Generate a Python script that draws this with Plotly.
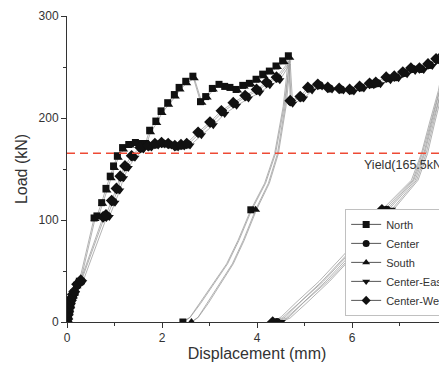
import plotly.graph_objects as go

SERIES_NAMES = ["North", "Center", "South", "Center-East", "Center-West"]
YIELD_LOAD = 165.5
X_TICKS = [0, 2, 4, 6, 8]
Y_TICKS = [0, 100, 200, 300]

# ---------------- North (square) ----------------
north_load_x = [0.00, 0.01, 0.02, 0.03, 0.04, 0.06, 0.08, 0.10, 0.12, 0.15, 0.20, 0.26, 0.57, 0.63, 0.73, 0.82, 0.91, 0.98, 1.06, 1.17, 1.30, 1.44, 1.55, 1.65, 1.74, 1.87, 1.98, 2.12, 2.26, 2.36, 2.50, 2.65, 2.81, 2.92, 3.06, 3.20, 3.32, 3.43, 3.56, 3.70, 3.84, 3.98, 4.12, 4.26, 4.40, 4.54, 4.66]
north_load_y = [0, 3, 7, 11, 14, 18, 21, 24, 26, 29, 36, 40, 102, 104, 117, 131, 143, 153, 163, 171, 174, 176, 175, 175, 188, 197, 207, 215, 223, 230, 236, 241, 216, 221, 229, 233, 231, 230, 228, 232, 234, 238, 243, 246, 251, 256, 261]
north_cycle_x = [4.62, 4.55, 4.37, 4.16, 3.87, 3.60, 3.36, 3.07, 2.79, 2.58, 2.44, 2.60, 2.81, 3.09, 3.38, 3.62, 3.89, 4.18, 4.39, 4.57, 4.64, 4.69]
north_cycle_y = [240, 211, 165, 136, 110, 80, 57, 37, 18, 4, 0, 5, 18, 37, 57, 80, 110, 136, 165, 211, 240, 258]
north_cycle_marks = [4, 10]

# ---------------- South (triangle up) ----------------
south_load_x = [0.00, 0.01, 0.02, 0.04, 0.05, 0.07, 0.09, 0.11, 0.13, 0.16, 0.21, 0.28, 0.59, 0.66, 0.75, 0.84, 0.93, 1.00, 1.08, 1.19, 1.33, 1.46, 1.58, 1.67, 1.76, 1.89, 2.00, 2.14, 2.28, 2.38, 2.52, 2.68, 2.84, 2.95, 3.08, 3.22, 3.35, 3.46, 3.59, 3.73, 3.87, 4.01, 4.15, 4.29, 4.43, 4.57, 4.69]
south_load_y = [0, 2, 6, 10, 13, 17, 20, 23, 25, 28, 35, 39, 101, 103, 116, 129, 141, 151, 161, 169, 173, 175, 174, 174, 186, 195, 205, 213, 221, 228, 234, 239, 215, 220, 228, 232, 230, 229, 227, 231, 233, 237, 241, 245, 250, 255, 259]
south_cycle_x = [4.65, 4.59, 4.43, 4.24, 3.97, 3.71, 3.48, 3.21, 2.95, 2.75, 2.62, 2.77, 2.97, 3.23, 3.50, 3.73, 3.99, 4.26, 4.45, 4.61, 4.67, 4.71]
south_cycle_y = [240, 211, 165, 136, 110, 80, 57, 37, 18, 4, 0, 5, 18, 37, 57, 80, 110, 136, 165, 211, 240, 257]
south_cycle_marks = [4, 10]

# ---------------- Center (circle) ----------------
center_load_x = [0.00, 0.01, 0.02, 0.04, 0.05, 0.07, 0.09, 0.11, 0.13, 0.16, 0.22, 0.30, 0.79, 0.85, 0.97, 1.07, 1.15, 1.25, 1.39, 1.57, 1.74, 1.88, 2.02, 2.16, 2.30, 2.43, 2.55, 2.79, 3.04, 3.28, 3.53, 3.78, 4.02, 4.23, 4.44]
center_load_y = [0, 3, 6, 10, 13, 17, 20, 23, 26, 29, 36, 40, 103, 104, 118, 130, 142, 152, 162, 170, 172, 174, 175, 174, 172, 173, 174, 185, 195, 206, 214, 221, 227, 234, 239]
center_peak_x = [4.62, 4.68]
center_peak_y = [250, 255]
center_tail_x = [4.72, 4.94, 5.11, 5.32, 5.53, 5.77, 5.99, 6.20, 6.41, 6.54, 6.76, 6.93, 7.11, 7.28, 7.46, 7.64, 7.81, 7.95]
center_tail_y = [216, 220, 229, 232, 229, 228, 227, 230, 233, 234, 239, 240, 244, 248, 248, 252, 257, 261]
center_cycle_x = [7.90, 7.85, 7.67, 7.51, 7.30, 6.73, 6.37, 6.09, 5.92, 5.40, 4.90, 4.60, 4.42, 4.62, 4.95, 5.45, 5.97, 6.13, 6.41, 6.77, 7.33, 7.53, 7.69, 7.88, 7.97, 8.03]
center_cycle_y = [240, 227, 195, 165, 139, 110, 93, 74, 66, 40, 19, 5, 0, 4, 18, 40, 66, 74, 93, 110, 139, 165, 195, 227, 250, 263]
center_cycle_marks = [5, 12]

# ---------------- Center-East (triangle down) ----------------
ce_load_x = [0.00, 0.01, 0.03, 0.04, 0.06, 0.08, 0.10, 0.12, 0.14, 0.18, 0.24, 0.33, 0.83, 0.89, 1.01, 1.11, 1.19, 1.29, 1.43, 1.61, 1.78, 1.92, 2.06, 2.20, 2.34, 2.47, 2.59, 2.83, 3.08, 3.32, 3.57, 3.82, 4.06, 4.27, 4.48]
ce_load_y = [0, 2, 6, 9, 13, 16, 20, 23, 25, 28, 35, 39, 102, 103, 117, 129, 141, 151, 161, 169, 171, 173, 174, 173, 171, 172, 173, 183, 193, 204, 212, 219, 225, 232, 237]
ce_peak_x = [4.64, 4.70]
ce_peak_y = [249, 253]
ce_tail_x = [4.75, 4.98, 5.16, 5.37, 5.58, 5.82, 6.04, 6.25, 6.46, 6.60, 6.81, 6.98, 7.16, 7.33, 7.51, 7.69, 7.86, 7.98]
ce_tail_y = [214, 219, 227, 231, 228, 227, 226, 229, 232, 233, 237, 239, 243, 246, 247, 251, 255, 259]
ce_cycle_x = [7.93, 7.88, 7.71, 7.56, 7.36, 6.83, 6.47, 6.19, 6.02, 5.49, 4.98, 4.68, 4.51, 4.70, 5.03, 5.53, 6.05, 6.22, 6.50, 6.87, 7.39, 7.59, 7.74, 7.91, 8.00, 8.06]
ce_cycle_y = [240, 227, 195, 165, 139, 110, 93, 74, 66, 40, 19, 5, 0, 4, 18, 40, 66, 74, 93, 110, 139, 165, 195, 227, 250, 263]
ce_cycle_marks = [5, 12]

# ---------------- Center-West (diamond) ----------------
cw_load_x = [0.00, 0.01, 0.02, 0.03, 0.05, 0.06, 0.08, 0.10, 0.12, 0.15, 0.21, 0.29, 0.76, 0.82, 0.94, 1.04, 1.12, 1.22, 1.36, 1.54, 1.71, 1.85, 1.99, 2.13, 2.27, 2.40, 2.52, 2.76, 3.01, 3.25, 3.50, 3.75, 3.99, 4.20, 4.41]
cw_load_y = [0, 3, 7, 10, 14, 18, 21, 24, 27, 30, 37, 41, 103, 105, 119, 131, 143, 153, 163, 171, 173, 175, 176, 175, 173, 174, 175, 186, 196, 207, 215, 222, 228, 235, 240]
cw_peak_x = [4.60, 4.67]
cw_peak_y = [251, 256]
cw_tail_x = [4.70, 4.91, 5.07, 5.28, 5.49, 5.73, 5.95, 6.16, 6.37, 6.50, 6.72, 6.89, 7.07, 7.24, 7.42, 7.60, 7.77, 7.92]
cw_tail_y = [217, 221, 230, 233, 230, 229, 228, 231, 234, 235, 240, 241, 245, 249, 249, 253, 258, 262]
cw_cycle_x = [7.87, 7.82, 7.63, 7.46, 7.25, 6.63, 6.27, 5.99, 5.83, 5.31, 4.82, 4.51, 4.33, 4.53, 4.87, 5.37, 5.89, 6.05, 6.33, 6.68, 7.28, 7.48, 7.65, 7.84, 7.94, 8.00]
cw_cycle_y = [240, 227, 195, 165, 139, 110, 93, 74, 66, 40, 19, 5, 0, 4, 18, 40, 66, 74, 93, 110, 139, 165, 195, 227, 250, 263]
cw_cycle_marks = [5, 12]

# segments: (x, y, marked indices or None = all marked)
series_segments = {
    "North": [(north_load_x, north_load_y, None),
              (north_cycle_x, north_cycle_y, north_cycle_marks)],
    "South": [(south_load_x, south_load_y, None),
              (south_cycle_x, south_cycle_y, south_cycle_marks)],
    "Center": [(center_load_x, center_load_y, None),
               (center_peak_x, center_peak_y, []),
               (center_tail_x, center_tail_y, None),
               (center_cycle_x, center_cycle_y, center_cycle_marks)],
    "Center-East": [(ce_load_x, ce_load_y, None),
                    (ce_peak_x, ce_peak_y, []),
                    (ce_tail_x, ce_tail_y, None),
                    (ce_cycle_x, ce_cycle_y, ce_cycle_marks)],
    "Center-West": [(cw_load_x, cw_load_y, None),
                    (cw_peak_x, cw_peak_y, []),
                    (cw_tail_x, cw_tail_y, None),
                    (cw_cycle_x, cw_cycle_y, cw_cycle_marks)],
}

symbols = {"North": "square", "Center": "circle", "South": "triangle-up",
           "Center-East": "triangle-down", "Center-West": "diamond"}
sizes = {"North": 7, "Center": 8, "South": 8, "Center-East": 8, "Center-West": 9}

LINE_COLOR = "#9a9a9a"
MARK_COLOR = "#111111"
FONT = "Liberation Sans, Arial, sans-serif"

fig = go.Figure()

# lines first
for name in SERIES_NAMES:
    xs, ys = [], []
    for sx, sy, _ in series_segments[name]:
        xs += sx
        ys += sy
    fig.add_trace(go.Scatter(x=xs, y=ys, mode="lines", showlegend=False,
                             line=dict(color=LINE_COLOR, width=0.75),
                             hoverinfo="skip"))

# markers
for name in SERIES_NAMES:
    mx, my = [], []
    for sx, sy, marks in series_segments[name]:
        idx = range(len(sx)) if marks is None else marks
        for i in idx:
            mx.append(sx[i])
            my.append(sy[i])
    fig.add_trace(go.Scatter(x=mx, y=my, mode="markers", showlegend=False,
                             marker=dict(symbol=symbols[name], size=sizes[name],
                                         color=MARK_COLOR, line=dict(width=0))))

# legend entries
for k, name in enumerate(SERIES_NAMES):
    fig.add_trace(go.Scatter(x=[None], y=[None], mode="lines+markers", name=name,
                             legendrank=k + 1,
                             line=dict(color="#555555", width=1),
                             marker=dict(symbol=symbols[name], size=7, color=MARK_COLOR)))

# yield line
fig.add_shape(type="line", xref="paper", x0=0, x1=1, yref="y",
              y0=YIELD_LOAD, y1=YIELD_LOAD,
              line=dict(color="#ee4a35", width=1.5, dash="8px,5px"))
fig.add_annotation(x=6.2, y=YIELD_LOAD, xref="x", yref="y",
                   text="Yield(165.5kN)", showarrow=False,
                   xanchor="left", yanchor="top", yshift=-3,
                   font=dict(size=12.5, color="#333333", family=FONT))

axis_common = dict(showgrid=False, zeroline=False, showline=True,
                   linecolor="#333333", linewidth=1, ticks="outside",
                   ticklen=5, tickwidth=1, tickcolor="#333333",
                   tickfont=dict(size=12, color="#333333", family=FONT),
                   mirror=False)

# the page body adds an 8px offset, so the figure is sized to fit the window
fig.update_layout(
    width=439, height=354,
    margin=dict(l=59, r=0, t=8, b=40, autoexpand=False),
    paper_bgcolor="white", plot_bgcolor="white",
    font=dict(family=FONT, color="#333333"),
    xaxis=dict(range=[0, 8], tickvals=X_TICKS,
               minor=dict(dtick=1, ticks="outside", ticklen=3, tickcolor="#333333"),
               title=dict(text="Displacement (mm)", font=dict(size=16, color="#333333"),
                          standoff=8),
               **axis_common),
    yaxis=dict(range=[0, 300], tickvals=Y_TICKS,
               minor=dict(dtick=50, ticks="outside", ticklen=3, tickcolor="#333333"),
               title=dict(text="Load (kN)", font=dict(size=16, color="#333333"),
                          standoff=6),
               **axis_common),
    legend=dict(x=0.732, y=0.02, xanchor="left", yanchor="bottom",
                bgcolor="white", bordercolor="#c0c0c0", borderwidth=1,
                font=dict(size=11, color="#333333", family=FONT),
                itemwidth=30, tracegroupgap=0),
    showlegend=True,
)

fig.write_html("out.html")
